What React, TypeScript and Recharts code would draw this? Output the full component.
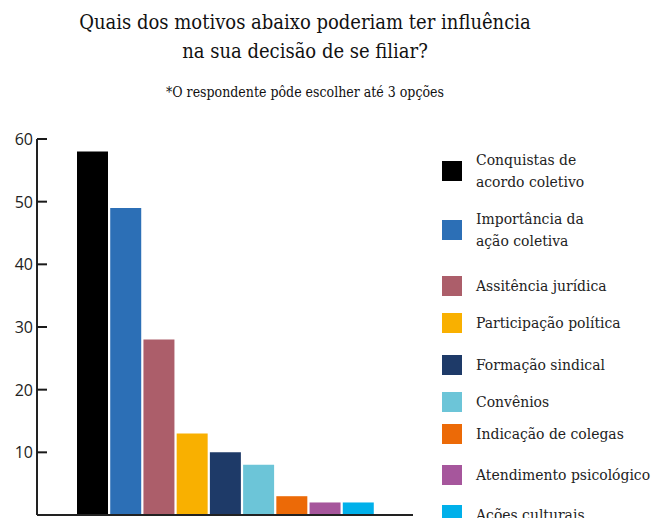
import React from 'react';
import { BarChart, Bar, XAxis, YAxis, Cell } from 'recharts';

const categories = [
  'Conquistas de acordo coletivo',
  'Importância da ação coletiva',
  'Assitência jurídica',
  'Participação política',
  'Formação sindical',
  'Convênios',
  'Indicação de colegas',
  'Atendimento psicológico',
  'Ações culturais',
];
const legendLines = [
  ['Conquistas de', 'acordo coletivo'],
  ['Importância da', 'ação coletiva'],
  ['Assitência jurídica'],
  ['Participação política'],
  ['Formação sindical'],
  ['Convênios'],
  ['Indicação de colegas'],
  ['Atendimento psicológico'],
  ['Ações culturais'],
];
const values = [58, 49, 28, 13, 10, 8, 3, 2, 2];
const colors = ['#000000', '#2c6fb6', '#ac5e6a', '#f9b000', '#1e3a68', '#6cc5d8', '#ec6a07', '#a6569c', '#00b0ea'];
const yTicks = [0, 10, 20, 30, 40, 50, 60];

const data = categories.map((c, i) => ({ name: c, value: values[i] }));

const CHART_W = 653;
const CHART_H = 518;
const MARGIN = { top: 139, right: 240, bottom: 2, left: 0 };
const Y_W = 37;
const PLOT_W = CHART_W - MARGIN.right - MARGIN.left - Y_W;

const SLAB = "'DejaVu Serif Condensed', 'DejaVu Serif', serif";
const legendGaps = [15, 23, 15, 20, 15, 10, 19, 18, 0];

const LegendBlock = () => (
  <div style={{ position: 'absolute', top: 149, left: 442, width: 211, display: 'flex', flexDirection: 'column' }}>
    {legendLines.map((lines, i) => (
      <div key={i} style={{ display: 'flex', alignItems: 'center', marginBottom: legendGaps[i] }}>
        <div style={{ width: 20, height: 20, background: colors[i], flexShrink: 0 }} />
        <div style={{ marginLeft: 14, fontFamily: SLAB, fontSize: 15.5, lineHeight: '22px', color: '#222', whiteSpace: 'nowrap' }}>
          {lines.map((l, j) => (
            <div key={j}>{l}</div>
          ))}
        </div>
      </div>
    ))}
  </div>
);

const renderYTick = (props: any) => {
  const x = Number(props.x);
  const y = Number(props.y);
  const v = props.payload.value;
  return (
    <g key={`t-${v}`}>
      <rect x={x} y={y - 1} width={10} height={2} fill="#1a1a1a" stroke="none" />
      {v === 0 ? <rect x={x + PLOT_W - 1} y={y - 9} width={2} height={9} fill="#1a1a1a" stroke="none" /> : null}
      <text x={x - 4} y={y} dy={6} textAnchor="end" fill="#222" fontSize={16} fontFamily="'Open Sans', sans-serif">
        {v}
      </text>
    </g>
  );
};

export default function App() {
  return (
    <div style={{ position: 'absolute', left: 0, top: 0, width: CHART_W, height: CHART_H, background: '#fff', overflow: 'hidden' }}>
      <div style={{ position: 'absolute', left: 0, width: 610, top: 8, textAlign: 'center', fontFamily: SLAB, fontSize: 20, lineHeight: '29px', color: '#111' }}>
        <div>Quais dos motivos abaixo poderiam ter influência</div>
        <div>na sua decisão de se filiar?</div>
      </div>
      <div style={{ position: 'absolute', left: 0, width: 610, top: 84, textAlign: 'center', fontFamily: SLAB, fontSize: 14, color: '#111' }}>
        *O respondente pôde escolher até 3 opções
      </div>
      <div style={{ position: 'absolute', left: 0, top: 0 }}>
        <BarChart width={CHART_W} height={CHART_H} data={data} margin={MARGIN} barCategoryGap={1}>
          <XAxis dataKey="name" tick={false} tickLine={false} height={1} axisLine={{ stroke: '#222', strokeWidth: 2 }} padding={{ left: 39, right: 38 }} />
          <YAxis
            domain={[0, 60]}
            ticks={yTicks}
            width={Y_W}
            tickSize={0}
            tickMargin={0}
            tickLine={false}
            axisLine={{ stroke: '#222', strokeWidth: 2 }}
            tick={renderYTick}
          />
          <Bar dataKey="value" isAnimationActive={false}>
            {data.map((d, i) => (
              <Cell key={i} fill={colors[i]} />
            ))}
          </Bar>
        </BarChart>
      </div>
      <LegendBlock />
    </div>
  );
}
